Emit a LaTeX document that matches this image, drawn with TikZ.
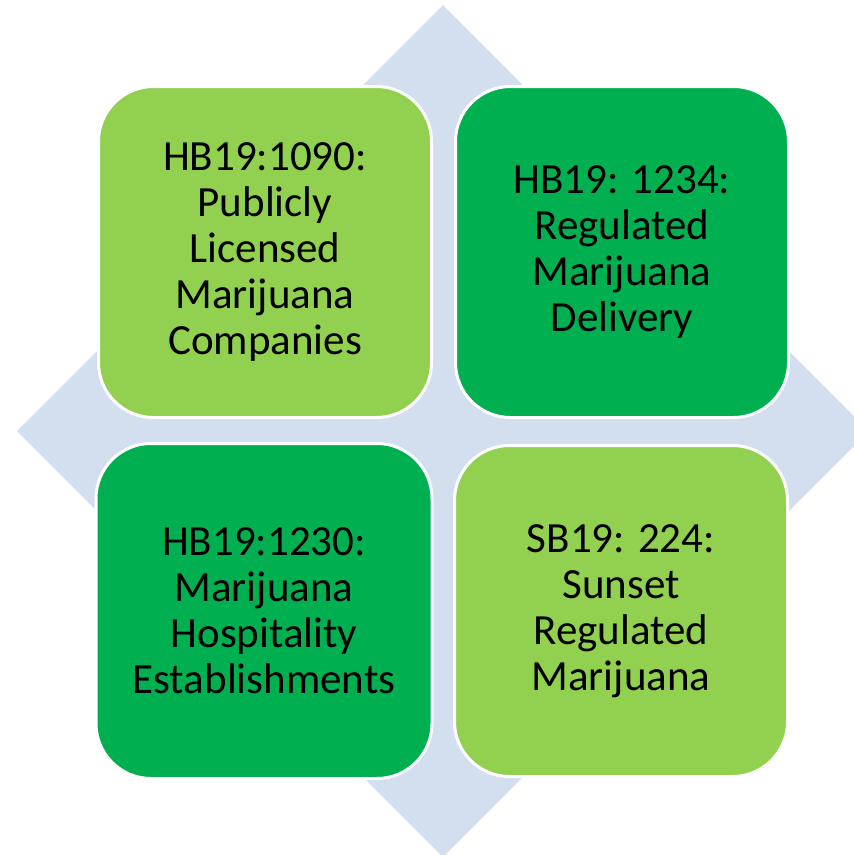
\documentclass[tikz,border=0pt]{standalone}
\usepackage{fontspec}
\setmainfont{Carlito}
\definecolor{lgreen}{RGB}{146,208,80}
\definecolor{dgreen}{RGB}{0,176,80}
\definecolor{diam}{RGB}{211,222,238}
\begin{document}
\begin{tikzpicture}[x=1pt,y=-1pt,
  card/.style={draw=white, line width=3pt, rounded corners=55pt,
    minimum width=333pt, minimum height=331pt, align=center, text=black,
    font=\fontsize{43}{46}\selectfont, inner sep=0pt}]
\useasboundingbox (0,0) rectangle (854,855);
\fill[diam] (443,5) -- (869,431) -- (443,857) -- (17,431) -- cycle;
\node[card, fill=lgreen] (tl) at (265,252) {HB19:1090:\\Publicly\\Licensed\\Marijuana\\Companies};
\node[card, fill=dgreen] (tr) at (622,252) {HB19: 1234:\\Regulated\\Marijuana\\Delivery};
\node[card, fill=dgreen, minimum width=336pt, minimum height=335pt] (bl) at (264,611) {HB19:1230:\\Marijuana\\Hospitality\\Establishments};
\node[card, fill=lgreen] (br) at (621,611) {SB19: 224:\\Sunset\\Regulated\\Marijuana};
\end{tikzpicture}
\end{document}
